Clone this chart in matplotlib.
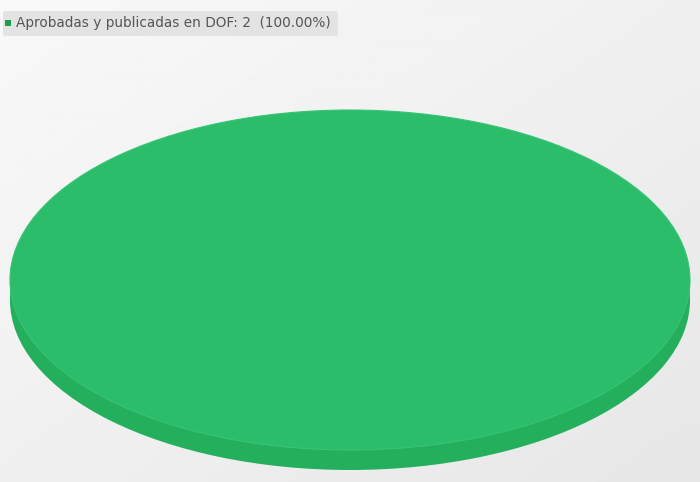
import numpy as np
import matplotlib
matplotlib.use("Agg")
import matplotlib.pyplot as plt
from matplotlib.patches import FancyBboxPatch, Rectangle

categories = ["Aprobadas y publicadas en DOF"]
values = [2]
top_colors = ["#2bbd6a"]
side_colors = ["#23af5c"]
legend_marker_colors = ["#1d9e4d"]

W, H = 700, 482
fig = plt.figure(figsize=(W / 100, H / 100), dpi=100)

# background gradient
bg = fig.add_axes([0, 0, 1, 1])
yy, xx = np.mgrid[0:1:200j, 0:1:300j]
g = 0.5 * xx + 0.5 * yy
img = 0.975 - 0.07 * g
bg.imshow(img, cmap="gray", vmin=0, vmax=1, extent=[0, 1, 0, 1], aspect="auto", origin="upper")
bg.set_axis_off()

ax = fig.add_axes([0, 0, 1, 1])
ax.patch.set_alpha(0)
cx, cy, rx, ry, depth = 350, 280, 340, 170, 20
xlim = (-cx / rx, (W - cx) / rx)
ylim = ((cy - H) / ry, cy / ry)
d = depth / ry

total = sum(values)
# side (depth)
ax.pie(values, colors=side_colors, startangle=90, counterclock=False, center=(0, -d),
       radius=1, frame=True, wedgeprops=dict(linewidth=0))
ax.add_patch(Rectangle((-1, -d), 2, d, color=side_colors[0], linewidth=0, zorder=1))
# top
ax.pie(values, colors=top_colors, startangle=90, counterclock=False, center=(0, 0),
       radius=1, frame=True, wedgeprops=dict(linewidth=0.8, edgecolor="#38c476"))
ax.set_xlim(*xlim)
ax.set_ylim(*ylim)
ax.set_aspect("auto")
ax.set_axis_off()

# legend
lab = f"{categories[0]}: {values[0]}  ({100 * values[0] / total:.2f}%)"
fig.patches.append(FancyBboxPatch((3 / W, 1 - 36 / H), 335 / W, 25 / H,
                                  boxstyle="round,pad=0,rounding_size=0.004",
                                  transform=fig.transFigure, facecolor="#e3e3e3",
                                  edgecolor="none"))
fig.patches.append(Rectangle((5 / W, 1 - 25.5 / H), 5.5 / W, 5.5 / H, transform=fig.transFigure,
                             facecolor=legend_marker_colors[0], edgecolor="none"))
fig.text(16 / W, 1 - 22.5 / H, lab, fontsize=9.8, color="#555555", va="center", ha="left",
         family="DejaVu Sans")

fig.savefig("out.png", dpi=100)
